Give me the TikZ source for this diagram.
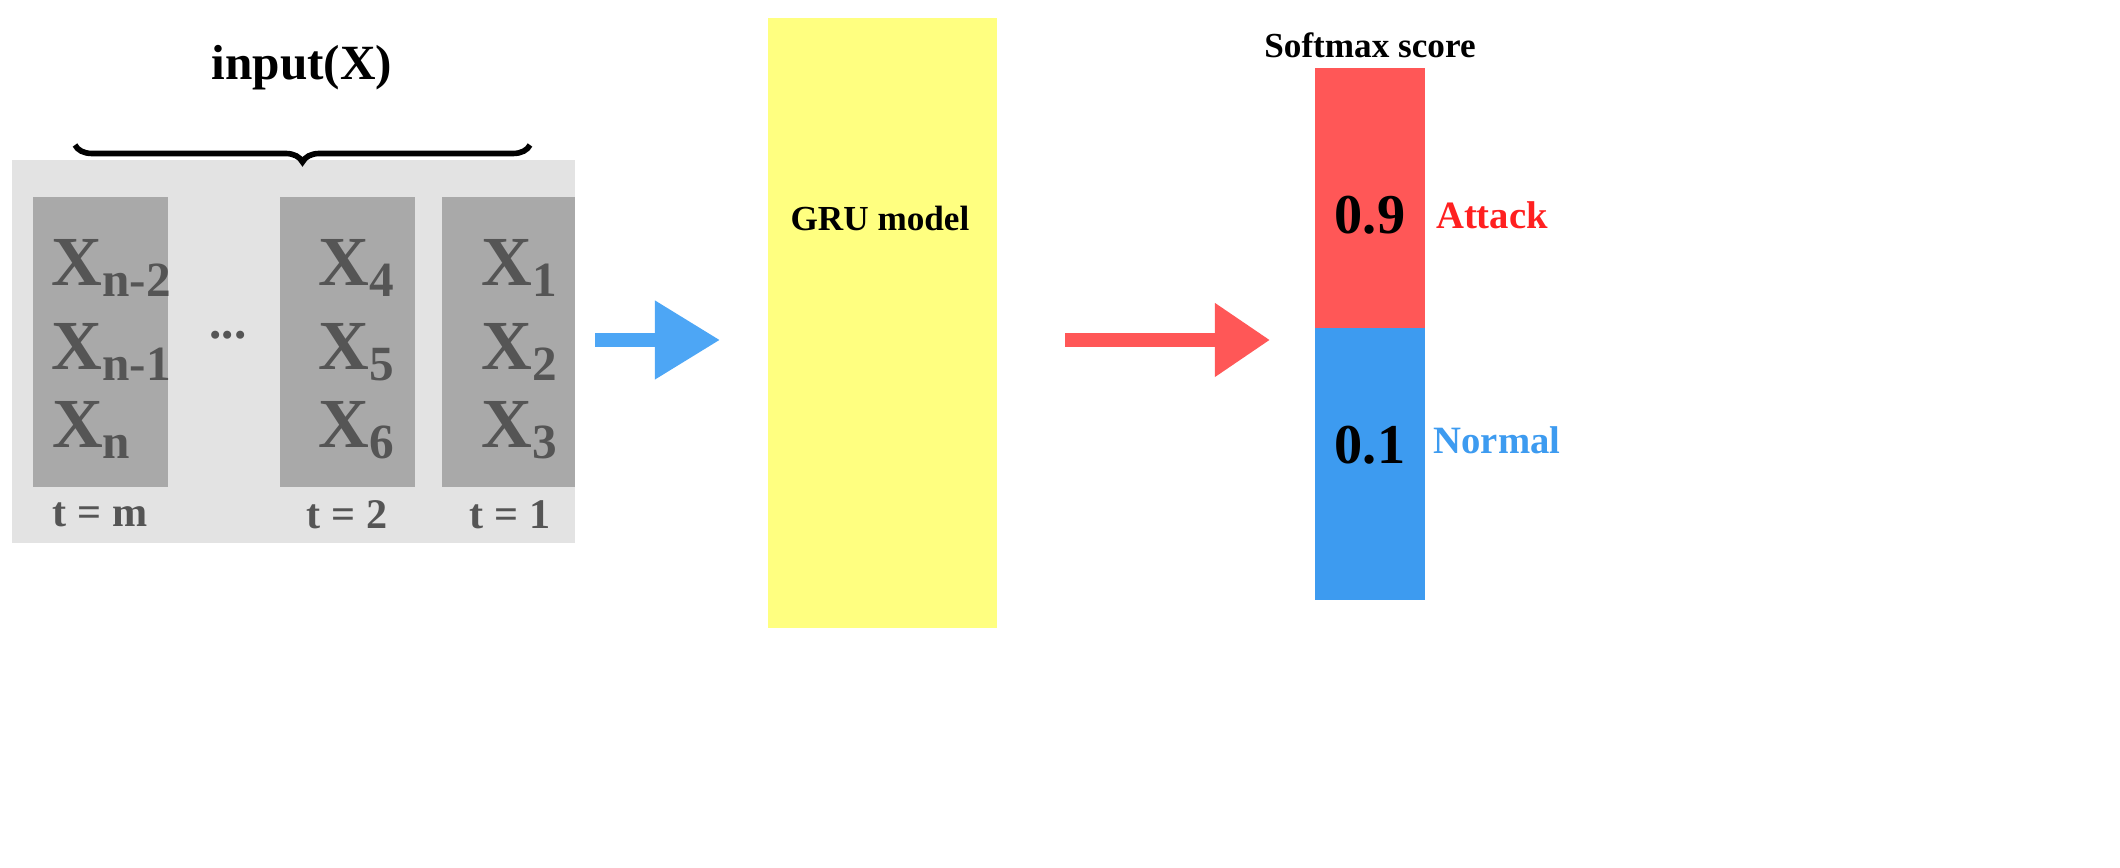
\documentclass[tikz,border=0pt]{standalone}
\usepackage{fontspec}
\setmainfont{Liberation Serif}
\usetikzlibrary{decorations.pathreplacing,arrows.meta}
\definecolor{lgray}{HTML}{E3E3E3}
\definecolor{dgray}{HTML}{A9A9A9}
\definecolor{tgray}{HTML}{555555}
\definecolor{yel}{HTML}{FFFF80}
\definecolor{redc}{HTML}{FF5757}
\definecolor{bluec}{HTML}{3D9BF0}
\definecolor{arrb}{HTML}{4DA6F5}
\definecolor{txtred}{HTML}{FF2020}
\begin{document}
\begin{tikzpicture}[x=0.01cm,y=-0.01cm,
  col/.style={fill=dgray,draw=none},
  xl/.style={font=\fontsize{20}{20}\selectfont\bfseries,text=tgray,anchor=center},
  tl/.style={font=\fontsize{12}{12}\selectfont\bfseries,text=tgray},
  lab/.style={font=\fontsize{10}{10}\selectfont\bfseries}]
\useasboundingbox (0,0) rectangle (2120,868);
\fill[lgray] (12,160) rectangle (575,543);
\fill[col] (33,197) rectangle (168,487);
\fill[col] (280,197) rectangle (415,487);
\fill[col] (442,197) rectangle (575,487);
\node[xl] (a1) at (112,268) {X\textsubscript{n-2}};
\node[xl] (a2) at (112,352) {X\textsubscript{n-1}};
\node[xl] (a3) at (92,430) {X\textsubscript{n}};
\node[xl] (b1) at (357,268) {X\textsubscript{4}};
\node[xl] (b2) at (357,352) {X\textsubscript{5}};
\node[xl] (b3) at (357,430) {X\textsubscript{6}};
\node[xl] (c1) at (520,268) {X\textsubscript{1}};
\node[xl] (c2) at (520,352) {X\textsubscript{2}};
\node[xl] (c3) at (520,430) {X\textsubscript{3}};
\node[font=\fontsize{14}{14}\selectfont\bfseries,text=tgray] (dots) at (228,335) {...};
\node[tl] (t1) at (100,515) {t = m};
\node[tl] (t2) at (347,515) {t = 2};
\node[tl] (t3) at (510,515) {t = 1};
\coordinate (bl) at (75,145);
\coordinate (br) at (530,145);
\draw[line width=1.6pt,decorate,decoration={brace,amplitude=0.17cm,mirror}] (bl) -- (br);
\node[font=\fontsize{14}{14}\selectfont\bfseries] (inp) at (302,68) {input(X)};
\fill[yel] (768,18) rectangle (997,628);
\node[lab] (gru) at (880,218) {GRU model};
\coordinate (ba) at (595,340);
\coordinate (bb) at (720,340);
\draw[arrb,line width=4pt,-{Triangle[length=0.65cm,width=0.75cm]}] (ba) -- (bb);
\coordinate (ra) at (1065,340);
\coordinate (rb) at (1270,340);
\draw[redc,line width=4pt,-{Triangle[length=0.55cm,width=0.7cm]}] (ra) -- (rb);
\fill[redc] (1315,68) rectangle (1425,328);
\fill[bluec] (1315,328) rectangle (1425,600);
\node[lab] (sm) at (1370,45) {Softmax score};
\node[font=\fontsize{16}{16}\selectfont\bfseries] (v1) at (1370,215) {0.9};
\node[font=\fontsize{16}{16}\selectfont\bfseries] (v2) at (1370,445) {0.1};
\node[lab,text=txtred,font=\fontsize{11}{11}\selectfont\bfseries] (att) at (1492,215) {Attack};
\node[lab,text=bluec,font=\fontsize{11}{11}\selectfont\bfseries] (nor) at (1497,440) {Normal};
\end{tikzpicture}
\end{document}
